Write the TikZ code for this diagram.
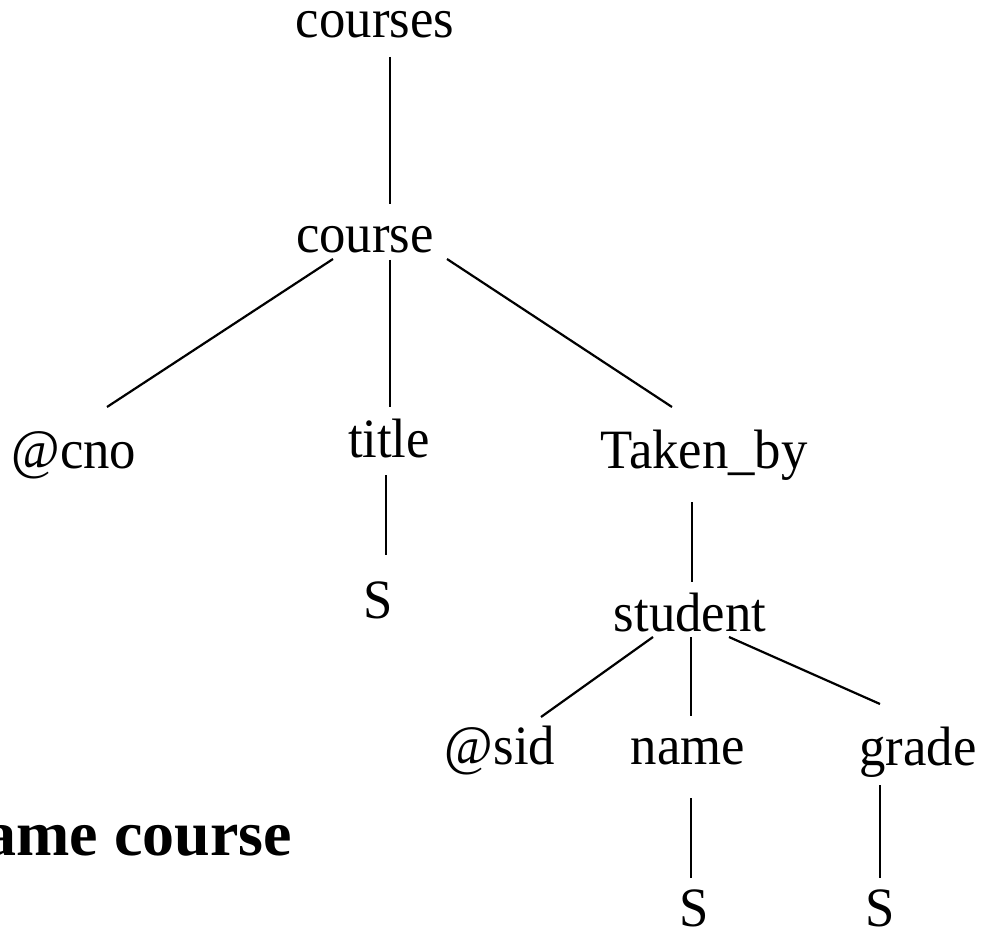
\documentclass[tikz,border=0pt]{standalone}
\usepackage{fontspec}
\setmainfont{Liberation Serif}[FakeStretch=0.95]
\newfontfamily\boldfont{Liberation Serif}
\begin{document}
\begin{tikzpicture}[x=1pt,y=-1pt,
  lbl/.style={anchor=base,inner sep=0pt,font=\fontsize{55.5}{60}\selectfont},
  edge/.style={line width=2.2pt,black}]
\useasboundingbox (0,0) rectangle (994,933);
\node[lbl] (courses) at (375,38) {courses};
\node[lbl] (course) at (365,253) {course};
\node[lbl] (cno) at (74,468) {@cno};
\node[lbl] (title) at (389,457) {title};
\node[lbl] (taken) at (704,468) {Taken\_by};
\node[lbl] (s1) at (378,618) {S};
\node[lbl] (student) at (690,631) {student};
\node[lbl] (sid) at (500,764) {@sid};
\node[lbl] (name) at (688,764) {name};
\node[lbl] (grade) at (918,765) {grade};
\node[lbl] (s2) at (694,926) {S};
\node[lbl] (s3) at (880,926) {S};
\node[anchor=base east,inner sep=0pt,font=\boldfont\bfseries\fontsize{64}{70}\selectfont] (caption) at (292,855) {ame course};
\draw[edge] ([shift={(15,19)}]courses.base) -- ([shift={(25,-49)}]course.base);
\draw[edge] ([shift={(-32,6)}]course.base) -- ([shift={(33,-61)}]cno.base);
\draw[edge] ([shift={(25,7)}]course.base) -- ([shift={(1,-50)}]title.base);
\draw[edge] ([shift={(82,6)}]course.base) -- ([shift={(-32,-61)}]taken.base);
\draw[edge] ([shift={(-3,18)}]title.base) -- ([shift={(8,-63)}]s1.base);
\draw[edge] ([shift={(-12,34)}]taken.base) -- ([shift={(2,-49)}]student.base);
\draw[edge] ([shift={(-37,6)}]student.base) -- ([shift={(41,-47)}]sid.base);
\draw[edge] ([shift={(1,6)}]student.base) -- ([shift={(3,-48)}]name.base);
\draw[edge] ([shift={(39,6)}]student.base) -- ([shift={(-38,-61)}]grade.base);
\draw[edge] ([shift={(3,34)}]name.base) -- ([shift={(-3,-48)}]s2.base);
\draw[edge] ([shift={(-38,20)}]grade.base) -- ([shift={(0,-48)}]s3.base);
\end{tikzpicture}
\end{document}
